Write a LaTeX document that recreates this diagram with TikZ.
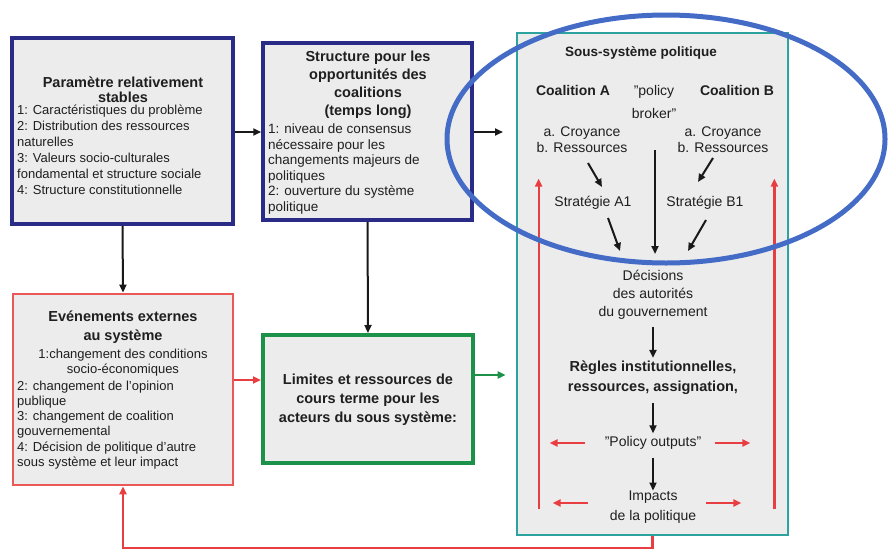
\documentclass[tikz,border=0pt]{standalone}
\usepackage{fontspec}
\setmainfont{Liberation Sans}
\usetikzlibrary{arrows.meta,calc}
\definecolor{navy}{RGB}{42,42,135}
\definecolor{boxred}{RGB}{235,88,88}
\definecolor{boxgreen}{RGB}{28,145,72}
\definecolor{tealc}{RGB}{45,163,160}
\definecolor{ellblue}{RGB}{68,108,198}
\definecolor{fillgray}{RGB}{236,236,237}
\definecolor{arrred}{RGB}{232,62,66}
\begin{document}
\begin{tikzpicture}[x=1pt,y=-1pt,
  box/.style={draw, fill=fillgray, inner sep=0pt},
  txt/.style={inner sep=0pt, align=center, text=black!88},
  ltxt/.style={inner sep=0pt, align=left, anchor=west, text=black!88},
  arr/.style={-{Triangle[length=8pt,width=7pt]}, line width=2pt, black!90},
  rarr/.style={-{Triangle[length=8pt,width=7pt]}, line width=2.2pt, arrred},
  garr/.style={-{Triangle[length=8pt,width=7pt]}, line width=2.2pt, boxgreen},
  fb/.style={font=\bfseries\fontsize{14.5}{18}\selectfont},
  fn/.style={font=\fontsize{13}{15.6}\selectfont},
  ft/.style={font=\fontsize{14}{17}\selectfont}]
\useasboundingbox (0,0) rectangle (888,552);
\fill[white] (0,0) rectangle (888,552);

% boxes
\node[box, draw=navy, line width=3.5pt, minimum width=221, minimum height=186] (b1) at (122.5,131) {};
\node[box, draw=navy, line width=3.5pt, minimum width=209, minimum height=177] (b2) at (367.5,131.5) {};
\node[box, draw=boxred, line width=2.8pt, minimum width=220, minimum height=191] (b3) at (123,389.5) {};
\node[box, draw=boxgreen, line width=4pt, minimum width=210, minimum height=128] (b4) at (368,399) {};
\node[box, draw=tealc, line width=2.8pt, minimum width=271, minimum height=502] (tl) at (652.5,284) {};

% box 1 text
\node[txt, font=\bfseries\fontsize{14.5}{15}\selectfont] (t1) at (123,90) {Paramètre relativement\\stables};
\node[ltxt, font=\fontsize{13}{16}\selectfont] (l1) at (17,150) {1: Caractéristiques du problème\\2: Distribution des ressources\\naturelles\\3: Valeurs socio-culturales\\fondamental et structure sociale\\4: Structure constitutionnelle};

% box 2 text
\node[txt, fb] (t2) at (368,85) {Structure pour les\\opportunités des\\coalitions\\(temps long)};
\node[ltxt, font=\fontsize{13.5}{15.6}\selectfont] (l2) at (268,169) {1: niveau de consensus\\nécessaire pour les\\changements majeurs de\\politiques\\2: ouverture du système\\politique};

% box 3 text
\node[txt, font=\bfseries\fontsize{14.5}{19}\selectfont] (t3) at (123,327.5) {Evénements externes\\au système};
\node[txt, font=\fontsize{13}{15}\selectfont] (c3) at (123,362.5) {1:changement des conditions\\socio-économiques};
\node[ltxt, font=\fontsize{13}{15.2}\selectfont] (l3) at (17,425) {2: changement de l'opinion\\publique\\3: changement de coalition\\gouvernemental\\4: Décision de politique d'autre\\sous système et leur impact};

% box 4 text
\node[txt, font=\bfseries\fontsize{14.5}{19}\selectfont] (t4) at (368,400) {Limites et ressources de\\cours terme pour les\\acteurs du sous système:};

% sub-system text
\node[txt, font=\bfseries\fontsize{13.5}{16}\selectfont] (ts) at (641,53) {Sous-système politique};
\node[txt, font=\bfseries\fontsize{14}{16}\selectfont] (ca) at (573,90) {Coalition A};
\node[txt, font=\bfseries\fontsize{14}{16}\selectfont] (cb) at (737,90) {Coalition B};
\node[txt, font=\fontsize{14}{23}\selectfont] (pb) at (654,101.5) {"policy\\broker"};
\node[txt, font=\fontsize{14}{16}\selectfont] (ra) at (582,140) {a. Croyance\\b. Ressources};
\node[txt, font=\fontsize{14}{16}\selectfont] (rb) at (723,140) {a. Croyance\\b. Ressources};
\node[txt, ft] (sa) at (593,203) {Stratégie A1};
\node[txt, ft] (sb) at (705,203) {Stratégie B1};
\node[txt, font=\fontsize{14}{18}\selectfont] (dec) at (653,295) {Décisions\\des autorités\\du gouvernement};
\node[txt, font=\bfseries\fontsize{14.5}{20}\selectfont] (rg) at (653,378) {Règles institutionnelles,\\ressources, assignation,};
\node[txt, ft] (po) at (653,443) {"Policy outputs"};
\node[txt, font=\fontsize{14}{20}\selectfont] (im) at (653,507) {Impacts\\de la politique};

% arrows between boxes
\draw[arr] (b1.east |- 0,132) -- (b2.west |- 0,132);
\coordinate (e2) at (503,132);
\draw[arr] (b2.east |- 0,132) -- (e2);
\draw[arr] (b1.south) -- (b3.north);
\draw[arr] (b2.south) -- (b4.north);
\draw[rarr] (b3.east |- 0,380) -- (b4.west |- 0,380);
\draw[garr] (b4.east |- 0,375) -- ([xshift=-10pt]tl.west |- 0,375);
\draw[rarr, line width=2.5pt] (tl.south) -- (tl.south |- 0,548) -- (b3.south |- 0,548) -- (b3.south);

% arrows inside sub-system
\draw[arr] (588,163) -- (602,187);
\draw[arr] (713,158) -- (698,182);
\draw[arr] (608,218) -- (620,251);
\draw[arr] (655,150) -- (655,254);
\draw[arr] (706,220) -- (688,251);
\draw[arr] ($(dec.south)+(0,7)$) -- ($(rg.north)+(0,-3)$);
\draw[arr] ($(rg.south)+(0,8)$) -- ($(po.north)+(0,-3)$);
\draw[arr] ($(po.south)+(0,8)$) -- ($(im.north)+(0,0)$);

% red arrows inside sub-system
\draw[rarr] ($(tl.south west)+(23,-27)$) -- ($(tl.north west)+(23,147)$);
\draw[rarr] ($(tl.south east)+(-15,-27)$) -- ($(tl.north east)+(-15,147)$);
\draw[rarr, line width=2.8pt] (po.west |- 0,443) ++(-20,0) -- ++(-35,0);
\draw[rarr, line width=2.8pt] (po.east |- 0,443) ++(14,0) -- ++(35,0);
\draw[rarr, line width=2.8pt] (im.west |- 0,503) ++(-22,0) -- ++(-35,0);
\draw[rarr, line width=2.8pt] (im.east |- 0,503) ++(10,0) -- ++(35,0);

% ellipse
\draw[ellblue, line width=5pt] (666,139) ellipse [x radius=219, y radius=124];
\end{tikzpicture}
\end{document}
